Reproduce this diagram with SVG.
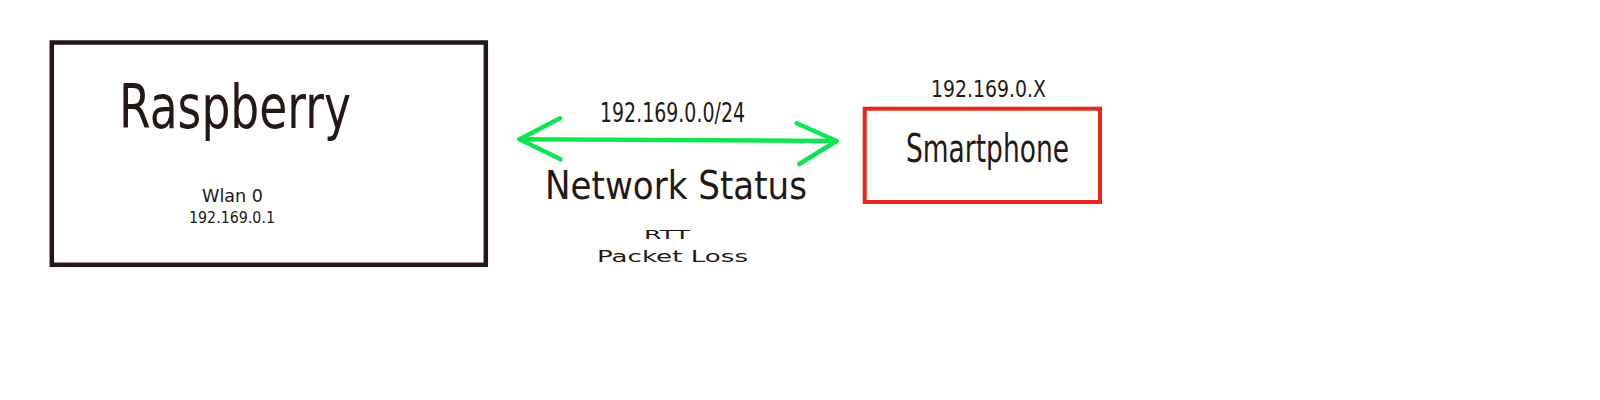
<svg xmlns="http://www.w3.org/2000/svg" width="1600" height="400" viewBox="0 0 1600 400">
  <style>
    .t { font-family: "DejaVu Sans", "Liberation Sans", sans-serif; fill: #231815; }
    .box { fill: #ffffff; }
    .link { stroke: #0ee651; stroke-width: 4.5; fill: none; stroke-linecap: round; stroke-linejoin: round; }
  </style>
  <rect x="0" y="0" width="1600" height="400" fill="#ffffff"/>
  <g id="raspberry">
    <rect class="box" x="51.8" y="42.5" width="434" height="222.3" stroke="#231815" stroke-width="4.5"/>
    <text class="t" x="119" y="128" font-size="60" textLength="232" lengthAdjust="spacingAndGlyphs">Raspberry</text>
    <text class="t" x="202" y="202" font-size="17.5" textLength="61" lengthAdjust="spacingAndGlyphs">Wlan 0</text>
    <text class="t" x="189" y="223" font-size="15.5" textLength="86" lengthAdjust="spacingAndGlyphs">192.169.0.1</text>
  </g>
  <g id="smartphone">
    <rect class="box" x="864.7" y="108.7" width="235.3" height="93.3" stroke="#e8271a" stroke-width="4"/>
    <text class="t" x="906" y="162" font-size="38.5" textLength="163" lengthAdjust="spacingAndGlyphs">Smartphone</text>
    <text class="t" x="931" y="97.3" font-size="23" textLength="115" lengthAdjust="spacingAndGlyphs">192.169.0.X</text>
  </g>
  <g id="connectors">
    <line class="link" x1="519.5" y1="139.3" x2="836.5" y2="141"/>
    <polyline class="link" points="560,118.3 519.5,139.3 560.5,159.3"/>
    <polyline class="link" points="796.7,123.3 836.5,141 799.3,164"/>
  </g>
  <g id="link-labels">
    <text class="t" x="600" y="121.7" font-size="26.5" textLength="145" lengthAdjust="spacingAndGlyphs">192.169.0.0/24</text>
    <text class="t" x="545" y="198.5" font-size="39.5" textLength="262" lengthAdjust="spacingAndGlyphs">Network Status</text>
    <text class="t" x="644" y="239.3" font-size="12" textLength="46" lengthAdjust="spacingAndGlyphs">RTT</text>
    <text class="t" x="597" y="262.3" font-size="16.5" textLength="151" lengthAdjust="spacingAndGlyphs">Packet Loss</text>
  </g>
</svg>
